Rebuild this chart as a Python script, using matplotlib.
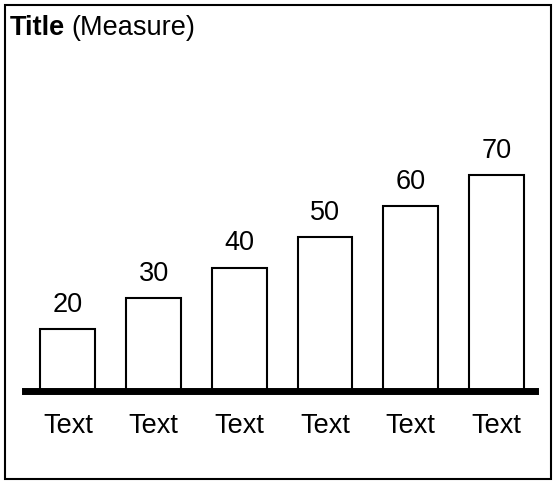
import matplotlib
matplotlib.use("Agg")
import matplotlib.pyplot as plt
from matplotlib.patches import Rectangle

categories = ["Text", "Text", "Text", "Text", "Text", "Text"]
values = [20, 30, 40, 50, 60, 70]
title_bold = "Title"
title_rest = "(Measure)"

plt.rcParams['font.family'] = ['Liberation Sans', 'DejaVu Sans']
W, H = 557, 484
FS = 19.5
fig = plt.figure(figsize=(W/100, H/100), dpi=100)

# figure border
fig.patches.append(Rectangle((5/W, 1 - 479/H), 546/W, 474/H, transform=fig.transFigure,
                             fill=False, edgecolor='black', linewidth=1.5))

px_per_unit = 3.086
top_px = 60
ymax = (391 - top_px) / px_per_unit
ax = fig.add_axes([25/W, 1 - 391/H, (535-25)/W, (391-top_px)/H])
x = list(range(len(values)))
ax.bar(x, values, width=0.64, facecolor='white', edgecolor='black', linewidth=1.5, zorder=2)
ax.set_xlim(-0.5, 5.45)
ax.set_ylim(0, ymax)
for s in ['top', 'right', 'left']:
    ax.spines[s].set_visible(False)
ax.spines['bottom'].set_linewidth(5)
ax.spines['bottom'].set_zorder(3)
ax.set_yticks([])
ax.set_xticks(x)
ax.set_xticklabels(categories, fontsize=FS)
ax.tick_params(axis='x', length=0, pad=16)
for xi, v in zip(x, values):
    ax.annotate(str(v), (xi, v), xytext=(0, 8), textcoords='offset points',
                ha='center', va='bottom', fontsize=FS)

t = fig.text(10/W, 1 - 35/H, title_bold, fontsize=FS, fontweight='bold', ha='left', va='baseline')
fig.canvas.draw()
bb = t.get_window_extent()
fig.text((bb.x1 + 6)/W, 1 - 35/H, title_rest, fontsize=FS, ha='left', va='baseline')

fig.savefig("out.png", dpi=100)
